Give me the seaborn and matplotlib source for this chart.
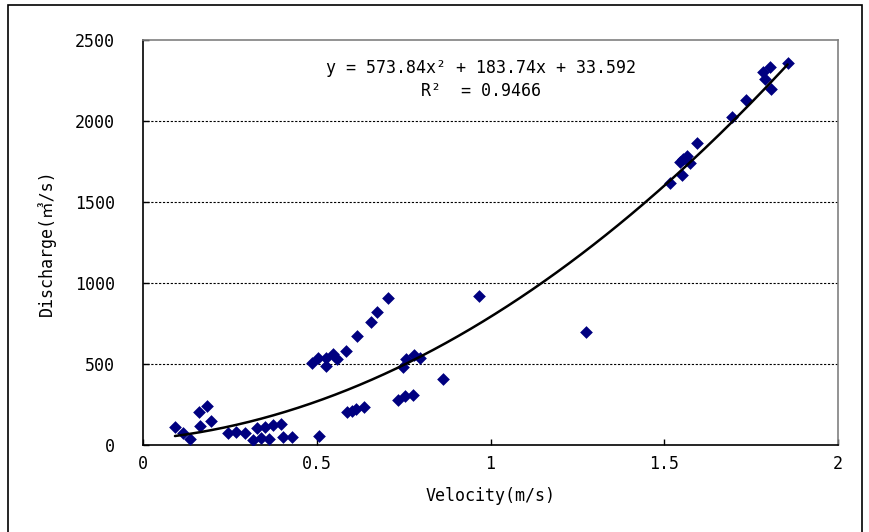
import matplotlib
matplotlib.use("Agg")
import matplotlib.pyplot as plt
import seaborn as sns
import numpy as np
import pandas as pd
from matplotlib.patches import Rectangle

# Data
velocity = [0.092, 0.116, 0.135, 0.164, 0.162, 0.183, 0.196, 0.246, 0.268, 0.294,
            0.316, 0.327, 0.341, 0.351, 0.364, 0.375, 0.396, 0.404, 0.428, 0.506,
            0.485, 0.505, 0.527, 0.528, 0.548, 0.557, 0.584, 0.617, 0.655, 0.674, 0.706,
            0.586, 0.600, 0.614, 0.636,
            0.733, 0.754, 0.776, 0.747, 0.757, 0.781, 0.797, 0.864, 0.967, 1.275,
            1.517, 1.550, 1.545, 1.555, 1.565, 1.574, 1.593, 1.694, 1.735, 1.783,
            1.804, 1.790, 1.806, 1.855]
discharge = [113, 76, 37, 117, 206, 241, 150, 76, 82, 76,
             31, 103, 41, 113, 35, 123, 128, 47, 47, 57,
             508, 535, 488, 535, 562, 529, 582, 673, 761, 823, 905,
             206, 212, 222, 236,
             278, 302, 309, 480, 529, 556, 539, 405, 922, 700,
             1620, 1667, 1749, 1763, 1784, 1743, 1862, 2027, 2130, 2304,
             2331, 2257, 2196, 2356]
coef = [573.84, 183.74, 33.592]
r2 = 0.9466
x_ticks = [0, 0.5, 1, 1.5, 2]
x_tick_labels = ["0", "0.5", "1", "1.5", "2"]
y_ticks = [0, 500, 1000, 1500, 2000, 2500]

sns.set_theme(style="white")
plt.rcParams['font.family'] = ['DejaVu Sans Mono', 'Noto Sans CJK KR']
plt.rcParams['text.color'] = 'black'
plt.rcParams['axes.labelcolor'] = 'black'

fig = plt.figure(figsize=(8.69, 5.32), dpi=100)
ax = fig.add_axes([143/869, 1-445/532, (838-143)/869, (445-40)/532])

df = pd.DataFrame({"v": velocity, "q": discharge})
sns.scatterplot(data=df, x="v", y="q", marker="D", s=42, color="#000080",
                edgecolor="#000080", linewidth=0, ax=ax, zorder=3)

xs = np.linspace(min(velocity), max(velocity), 200)
ys = coef[0]*xs**2 + coef[1]*xs + coef[2]
sns.lineplot(x=xs, y=ys, color="black", linewidth=1.8, ax=ax, zorder=4)

ax.set_xlim(0, 2)
ax.set_ylim(0, 2500)
ax.set_xticks(x_ticks)
ax.set_xticklabels(x_tick_labels)
ax.set_yticks(y_ticks)
ax.set_yticklabels([str(t) for t in y_ticks])
for yv in y_ticks[1:-1]:
    ax.axhline(yv, color="black", linestyle=(0, (2, 1.5)), linewidth=0.8, zorder=1)

ax.tick_params(axis='both', direction='in', length=4.5, width=1, color='black',
               labelsize=12, labelcolor='black', left=True, bottom=True)
ax.tick_params(axis='x', pad=7)
ax.tick_params(axis='y', pad=20)

for side in ['left', 'bottom']:
    ax.spines[side].set_color('black')
    ax.spines[side].set_linewidth(1.2)
for side in ['top', 'right']:
    ax.spines[side].set_visible(True)
    ax.spines[side].set_color('#808080')
    ax.spines[side].set_linewidth(1.2)

ax.set_xlabel("Velocity(m/s)", fontsize=12, labelpad=10)
ax.set_ylabel("Discharge(㎥/s)", fontsize=12, labelpad=14)

ax.text(0.973, 2327, f"y = {coef[0]:.2f}x² + {coef[1]:.2f}x + {coef[2]:.3f}",
        ha='center', va='center', fontsize=12, zorder=5)
ax.text(0.973, 2185, f"R²  = {r2:.4f}", ha='center', va='center', fontsize=12, zorder=5)

fig.patches.append(Rectangle((8/869, -0.02), (862-8)/869, 1-5/532+0.02,
                             transform=fig.transFigure, fill=False,
                             edgecolor='black', linewidth=1.2, clip_on=False))

fig.savefig("out.png", dpi=100, facecolor='white')
